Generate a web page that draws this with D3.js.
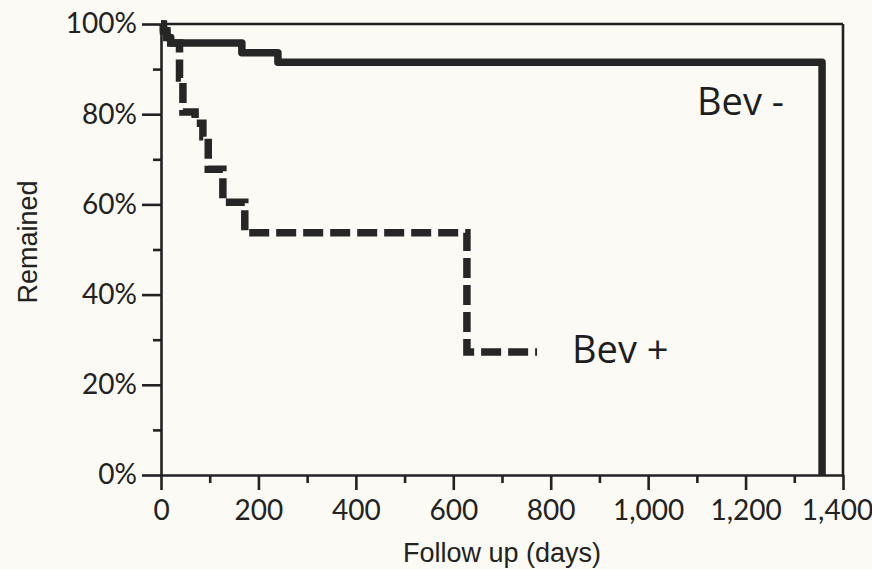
<!DOCTYPE html>
<html>
<head>
<meta charset="utf-8">
<script src="https://cdn.jsdelivr.net/npm/d3@7"></script>
<style>
  body { margin: 0; background: #fbfaf4; }
  svg { display: block; }
  .tick text { font-family: Lato, "DejaVu Sans", sans-serif; font-weight: 400; fill: #222; }
</style>
</head>
<body>
<script>
// Kaplan-Meier steps (days, fraction remaining)
const bevMinusDays = [0, 5, 12, 20, 166, 240, 1357];
const bevMinusSurv = [1, 0.985, 0.97, 0.958, 0.936, 0.915, 0];

const bevPlusDays = [0, 5, 12, 20, 38, 45, 70, 86, 97, 127, 172, 628];
const bevPlusSurv = [1, 0.985, 0.97, 0.958, 0.88, 0.805, 0.78, 0.75, 0.678, 0.605, 0.537, 0.273];
const bevPlusEnd = 772;

const xTicks = [0, 200, 400, 600, 800, 1000, 1200, 1400];
const xMinor = [100, 300, 500, 700, 900, 1100, 1300];
const yTicks = [0, 0.2, 0.4, 0.6, 0.8, 1];
const yMinor = [0.1, 0.3, 0.5, 0.7, 0.9];

const W = 872, H = 569;
const ink = "#222";

const svg = d3.select("body").append("svg")
    .attr("width", W)
    .attr("height", H);

const x = d3.scaleLinear().domain([0, 1400]).range([161, 843]);
const y = d3.scaleLinear().domain([0, 1]).range([475, 24]);

// minor ticks
svg.append("g")
    .attr("transform", `translate(0, ${y(0)})`)
    .call(d3.axisBottom(x).tickValues(xMinor).tickSize(8).tickFormat(""))
    .call(g => g.select(".domain").remove());

svg.append("g")
    .attr("transform", `translate(${x(0)}, 0)`)
    .call(d3.axisLeft(y).tickValues(yMinor).tickSize(8).tickFormat(""))
    .call(g => g.select(".domain").remove());

// X axis
svg.append("g")
    .attr("transform", `translate(0, ${y(0)})`)
    .call(d3.axisBottom(x)
        .tickValues(xTicks)
        .tickSize(15)
        .tickSizeOuter(0)
        .tickPadding(10)
        .tickFormat(d3.format(",")))
    .call(g => g.selectAll("text").style("font-size", "28px"))
    // last label sits against the page edge
    .call(g => g.selectAll(".tick text").filter(d => d === 1400).attr("dx", -6));

// Y axis
svg.append("g")
    .attr("transform", `translate(${x(0)}, 0)`)
    .call(d3.axisLeft(y)
        .tickValues(yTicks)
        .tickSize(19)
        .tickSizeOuter(0)
        .tickPadding(5)
        .tickFormat(d3.format(".0%")))
    .call(g => g.selectAll("text").style("font-size", "28px"));

svg.selectAll(".domain, .tick line")
    .attr("stroke", ink)
    .attr("stroke-width", 2.6);

// top and right frame
svg.append("line")
    .attr("x1", x(0)).attr("x2", x(1400))
    .attr("y1", y(1)).attr("y2", y(1))
    .attr("stroke", ink).attr("stroke-width", 2.6);

svg.append("line")
    .attr("x1", x(1400)).attr("x2", x(1400))
    .attr("y1", y(1)).attr("y2", y(0))
    .attr("stroke", ink).attr("stroke-width", 2.6);

// curves
const line = d3.line()
    .x(d => x(d[0]))
    .y(d => y(d[1]))
    .curve(d3.curveStepAfter);

const minusPts = bevMinusDays.map((d, i) => [d, bevMinusSurv[i]]);
const plusPts = bevPlusDays.map((d, i) => [d, bevPlusSurv[i]]);
plusPts.push([bevPlusEnd, bevPlusSurv[bevPlusSurv.length - 1]]);

svg.append("path")
    .datum(plusPts)
    .attr("d", line)
    .attr("fill", "none")
    .attr("stroke", "#262626")
    .attr("stroke-width", 7.5)
    .attr("stroke-dasharray", "20,7");

svg.append("path")
    .datum(minusPts)
    .attr("d", line)
    .attr("fill", "none")
    .attr("stroke", "#262626")
    .attr("stroke-width", 7.5)
    .attr("stroke-linejoin", "round");

// curve labels
svg.append("text")
    .attr("x", 697).attr("y", 115)
    .style("font-family", "'Open Sans', sans-serif")
    .style("font-size", "38px")
    .attr("fill", "#1e1e1e")
    .text("Bev -");

svg.append("text")
    .attr("x", 572).attr("y", 363)
    .style("font-family", "'Open Sans', sans-serif")
    .style("font-size", "38px")
    .attr("fill", "#1e1e1e")
    .text("Bev +");

// axis titles
svg.append("text")
    .attr("x", (x(0) + x(1400)) / 2)
    .attr("y", 562)
    .attr("text-anchor", "middle")
    .style("font-family", "'Liberation Sans', Arial, sans-serif")
    .style("font-size", "27px")
    .attr("fill", "#222")
    .text("Follow up (days)");

svg.append("text")
    .attr("transform", `translate(37, 242) rotate(-90)`)
    .attr("text-anchor", "middle")
    .style("font-family", "'Liberation Sans', Arial, sans-serif")
    .style("font-size", "27px")
    .attr("fill", "#222")
    .text("Remained");
</script>
</body>
</html>
